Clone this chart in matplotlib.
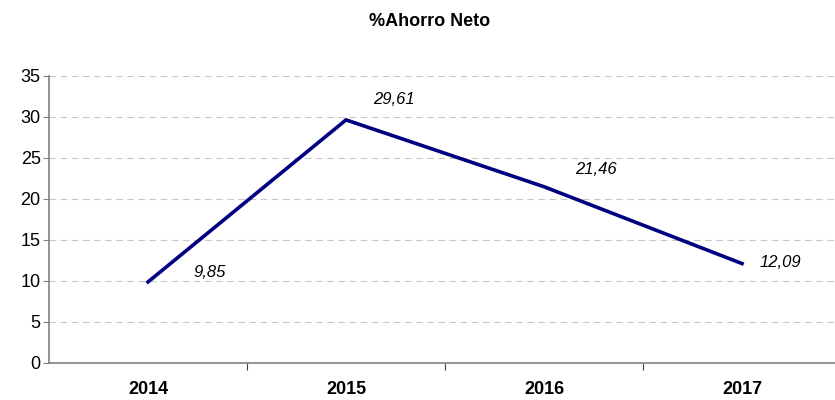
import numpy as np
import matplotlib
matplotlib.use('Agg')
import matplotlib.pyplot as plt

plt.rcParams['font.family'] = ['Liberation Sans', 'DejaVu Sans']

# data
years = ['2014', '2015', '2016', '2017']
ahorro = [9.85, 29.61, 21.46, 12.09]
labels = ['9,85', '29,61', '21,46', '12,09']
label_offsets = [(62, 9), (48, 20), (52, 17), (38, 1)]  # pixels

fig = plt.figure(figsize=(8.35, 4.0), dpi=100)
ax = fig.add_axes([49/835, 1-362.7/400, 792/835, (362.7-75.7)/400])

x = np.arange(len(years))
ax.plot(x, ahorro, color='#000080', lw=2.6, solid_joinstyle='miter')

for xi, yi, lab, off in zip(x, ahorro, labels, label_offsets):
    ax.annotate(lab, (xi, yi), xytext=off, textcoords='offset pixels',
                ha='center', va='center', fontsize=12, style='italic')

ax.set_xlim(-0.5, 3.5)
ax.set_ylim(0, 35)
ax.set_yticks(range(0, 36, 5))
ax.yaxis.grid(True, ls=(0, (6, 4)), color='#c8c8c8', lw=0.8)
ax.set_axisbelow(True)

# category labels between tick marks
ax.set_xticks([0.5, 1.5, 2.5])
ax.set_xticklabels([])
ax.set_xticks(x, minor=True)
ax.set_xticklabels(years, minor=True, fontweight='bold', fontsize=13)
ax.tick_params(axis='x', which='minor', length=0, pad=13)
ax.tick_params(axis='x', which='major', length=5, direction='out', color='#404040')
ax.tick_params(axis='y', length=4, color='#808080', labelsize=13, pad=2)

for s in ['top', 'right']:
    ax.spines[s].set_visible(False)
ax.spines['left'].set_color('#808080')
ax.spines['bottom'].set_color('#808080')
ax.spines['left'].set_linewidth(1.2)
ax.spines['bottom'].set_linewidth(1.2)

fig.text(430/835, 1-22/400, '%Ahorro Neto', ha='center', va='center',
         fontweight='bold', fontsize=13)

fig.savefig('out.png', dpi=100)
